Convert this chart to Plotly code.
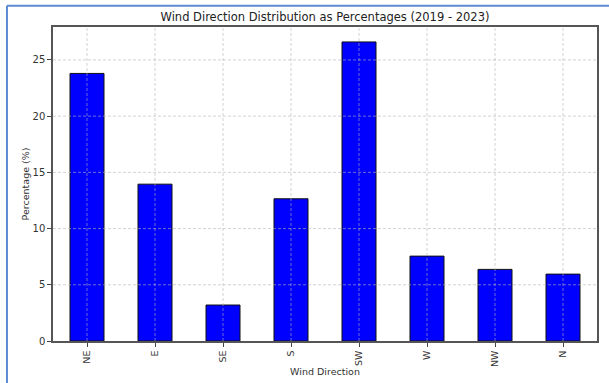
import plotly.graph_objects as go

# Share of observations per wind direction, 2019-2023 (%)
directions = ["NE", "E", "SE", "S", "SW", "W", "NW", "N"]
percentages = [23.8, 13.95, 3.2, 12.65, 26.6, 7.55, 6.37, 5.95]
y_ticks = [0, 5, 10, 15, 20, 25]

font_family = "DejaVu Sans"
text_color = "#333333"

fig = go.Figure(
    go.Bar(
        x=directions,
        y=percentages,
        width=0.5,
        marker=dict(color="#0000FF", line=dict(color="#111111", width=1)),
    )
)

# Dashed grid drawn on top of the bars
grid = dict(color="rgba(180,180,180,0.6)", width=1, dash="3px,2px")
shapes = []
for i, _ in enumerate(directions):
    shapes.append(dict(type="line", xref="x", yref="paper", x0=i, x1=i, y0=0, y1=1,
                       line=grid, layer="above"))
for t in y_ticks[1:]:
    shapes.append(dict(type="line", xref="paper", yref="y", x0=0, x1=1, y0=t, y1=t,
                       line=grid, layer="above"))

# Blue page frame along the top and left edges
frame = dict(color="#5B8BD0", width=2)
shapes.append(dict(type="line", xref="paper", yref="paper", x0=-0.0846, x1=1.03,
                   y0=1.068, y1=1.068, line=frame, layer="above"))
shapes.append(dict(type="line", xref="paper", yref="paper", x0=-0.0846, x1=-0.0846,
                   y0=-0.2, y1=1.068, line=frame, layer="above"))

fig.update_layout(
    width=609,
    height=383,
    margin=dict(l=53, r=12, t=27, b=42),
    paper_bgcolor="white",
    plot_bgcolor="white",
    font=dict(family=font_family, color=text_color, size=10),
    showlegend=False,
    shapes=shapes,
    title=dict(
        text="Wind Direction Distribution as Percentages (2019 - 2023)",
        x=0.5, xref="paper", xanchor="center",
        y=0.955, yref="container", yanchor="middle",
        font=dict(family=font_family, size=11.5, color="#222222"),
    ),
    xaxis=dict(
        range=[-0.5, 7.5],
        automargin=False,
        tickangle=-90,
        ticks="outside", ticklen=4, tickcolor="#444444", tickwidth=1,
        tickfont=dict(size=9.5),
        showgrid=False,
        showline=True, linecolor="#555555", linewidth=1.5, mirror=True,
        title=dict(text="Wind Direction", font=dict(size=9.5), standoff=2),
    ),
    yaxis=dict(
        range=[0, 27.93],
        automargin=False,
        tickvals=y_ticks,
        ticks="outside", ticklen=4, tickcolor="#444444", tickwidth=1,
        tickfont=dict(size=10),
        showgrid=False, zeroline=False,
        showline=True, linecolor="#555555", linewidth=1.5, mirror=True,
        title=dict(text="Percentage (%)", font=dict(size=9.5), standoff=1),
    ),
)

fig.write_html("out.html")
